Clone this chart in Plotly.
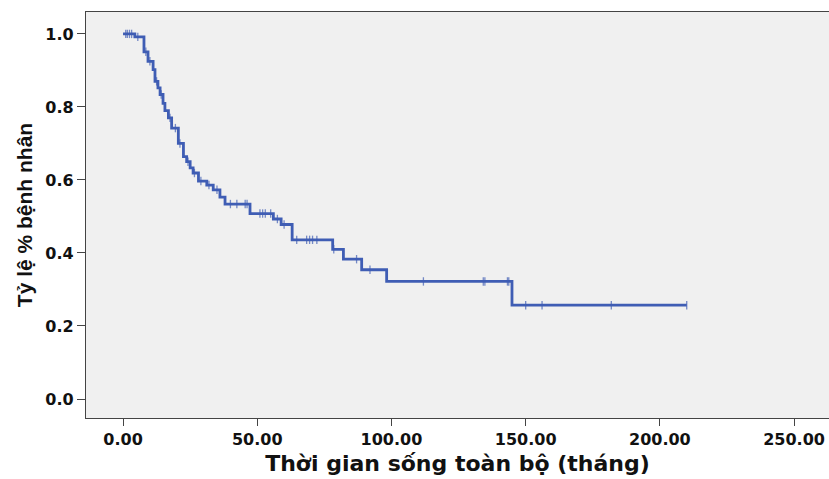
import plotly.graph_objects as go
import bisect

# Kaplan-Meier step points (time in months, survival proportion)
event_times = [0.0, 4.4, 7.8, 9.3, 11.2, 11.9, 13.0, 13.8, 14.9, 15.6, 16.9, 18.1,
               20.6, 22.5, 23.7, 25.0, 26.1, 28.1, 31.2, 33.6, 36.1, 38.0, 47.3,
               56.0, 58.9, 63.0, 78.1, 82.1, 88.9, 98.2, 144.9, 210.0]
survival = [1.0, 0.992, 0.951, 0.925, 0.902, 0.870, 0.852, 0.834, 0.810, 0.790, 0.770, 0.742,
            0.700, 0.664, 0.650, 0.633, 0.619, 0.597, 0.586, 0.573, 0.553, 0.534, 0.508,
            0.493, 0.478, 0.436, 0.410, 0.383, 0.354, 0.322, 0.257, 0.257]

# Censored observations (months)
censor_times = [1.0, 1.6, 2.4, 3.2, 5.5, 8.5, 10.0, 12.5, 14.2, 17.5, 19.5, 21.2,
                24.2, 26.6, 29.0, 32.0, 35.0, 40.0, 42.4, 45.5, 46.2, 51.0, 52.0,
                53.0, 55.0, 57.5, 60.0, 64.7, 68.4, 69.5, 70.6, 72.2, 78.5, 87.0,
                92.0, 111.9, 134.2, 134.8, 143.2, 143.7, 150.0, 156.1, 181.9, 210.0]

x_ticks = [0, 50, 100, 150, 200, 250]
x_tick_labels = ["0.00", "50.00", "100.00", "150.00", "200.00", "250.00"]
y_ticks = [0.0, 0.2, 0.4, 0.6, 0.8, 1.0]
y_tick_labels = ["0.0", "0.2", "0.4", "0.6", "0.8", "1.0"]


def surv_at(t):
    i = bisect.bisect_right(event_times, t) - 1
    return survival[max(i, 0)]


censor_surv = [surv_at(t) for t in censor_times]

line_color = "#3F5DB4"

fig = go.Figure()
fig.add_trace(go.Scatter(
    x=event_times, y=survival, mode="lines", line_shape="hv",
    line=dict(color=line_color, width=2.8), hoverinfo="skip", showlegend=False,
))
fig.add_trace(go.Scatter(
    x=censor_times, y=censor_surv, mode="markers",
    marker=dict(symbol="line-ns", size=6, line=dict(color="rgba(63,93,180,0.7)", width=1.3)),
    showlegend=False,
))

tick_font = dict(family="DejaVu Sans", size=16, color="#111111", weight="bold")

fig.update_layout(
    width=829, height=479,
    margin=dict(l=86, r=0, t=12, b=61),
    paper_bgcolor="white",
    plot_bgcolor="#F0F0F0",
    xaxis=dict(
        range=[-13.8, 263.0], tickvals=x_ticks, ticktext=x_tick_labels,
        showgrid=False, zeroline=False,
        showline=True, linecolor="#444444", linewidth=1.3, mirror=True,
        ticks="outside", ticklen=7, tickwidth=1.3, tickcolor="#444444",
        tickfont=tick_font,
        title=dict(text="Thời gian sống toàn bộ (tháng)", standoff=7,
                   font=dict(family="DejaVu Sans", size=22, color="#111111", weight="bold")),
    ),
    yaxis=dict(
        range=[-0.052, 1.060], tickvals=y_ticks, ticktext=y_tick_labels,
        showgrid=False, zeroline=False,
        showline=True, linecolor="#444444", linewidth=1.3,
        ticks="outside", ticklen=8, tickwidth=1.3, tickcolor="#444444",
        tickfont=tick_font,
        title=dict(text="Tỷ lệ % bệnh nhân", standoff=6,
                   font=dict(family="Liberation Sans", size=21, color="#111111", weight="bold")),
    ),
)

fig.write_html("out.html")
